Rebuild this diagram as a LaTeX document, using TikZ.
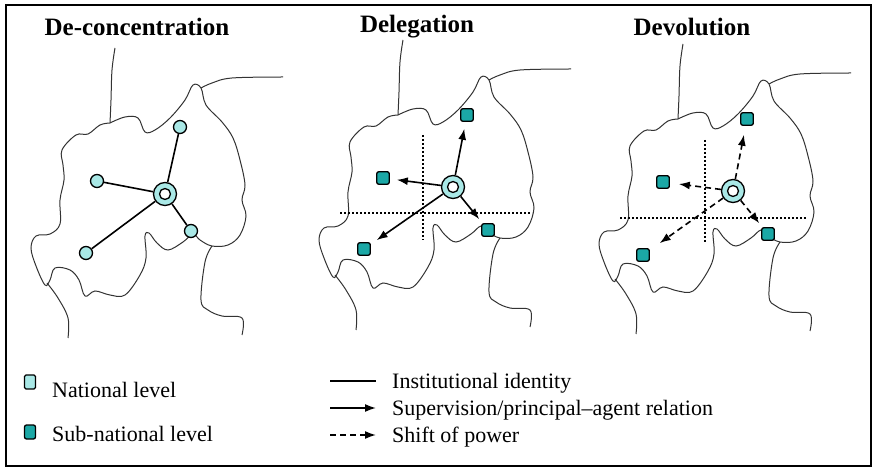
\documentclass[tikz,border=0pt]{standalone}
\usepackage{fontspec}
\setmainfont{Liberation Serif}
\usetikzlibrary{arrows.meta}
\definecolor{natc}{HTML}{A9E8E6}
\definecolor{subc}{HTML}{1BA8A6}
\tikzset{
  border/.style={line width=1pt, black!80},
  nat/.style={circle, draw, line width=1.3pt, fill=natc, minimum size=13pt, inner sep=0},
  sub/.style={rectangle, rounded corners=2pt, draw, line width=1.3pt, fill=subc, minimum size=12.5pt, inner sep=0},
  ctr/.style={circle, draw, line width=1.3pt, fill=natc, minimum size=23pt, inner sep=0,
     path picture={\draw[line width=1.3pt, fill=white] (path picture bounding box.center) circle (5.5pt);}},
  ident/.style={line width=1.6pt},
  superv/.style={line width=1.6pt, -{Latex[length=11pt,width=8pt]}},
  shiftpow/.style={line width=1.6pt, dash pattern=on 6pt off 4pt, -{Latex[length=11pt,width=8pt]}},
  gridline/.style={line width=1.6pt, dash pattern=on 1.6pt off 2.4pt},
  ttl/.style={font=\fontsize{25}{27}\selectfont\bfseries},
  lgd/.style={font=\fontsize{22}{24}\selectfont, anchor=west, inner sep=0}
}
\newcommand{\rmap}{%
  \draw[border] plot[smooth, tension=0.6] coordinates {(115,48) (112,70) (111,100) (110,123)};
  \draw[border] plot[smooth, tension=0.6] coordinates {(110,123) (125,117) (138,118) (145,132) (155,130) (170,118) (185,100) (193,85) (201,88) (206,105) (222,122) (233,138) (240,160) (245,185) (242,200) (246,216) (240,235) (228,245) (212,246) (200,240) (193,234) (183,242) (168,250) (157,243) (149,233) (145,236) (146,258) (140,275) (125,295) (110,295) (95,291) (85,296) (79,280) (70,270) (55,268) (50,280) (45,285) (36,266) (31,248) (36,236) (50,234) (60,224) (60,200) (64,180) (63,165) (62,150) (76,135) (88,134) (100,125) (110,123)};
  \draw[border] plot[smooth, tension=0.6] coordinates {(201,88) (212,83) (232,78) (283,77)};
  \draw[border] plot[smooth, tension=0.6] coordinates {(212,246) (205,262) (201,300) (208,310) (222,316) (242,318) (242,335)};
  \draw[border] plot[smooth, tension=0.6] coordinates {(47,283) (58,298) (68,318) (68,338)};
}
\begin{document}
\begin{tikzpicture}[x=1pt,y=-1pt]
\useasboundingbox (0,0) rectangle (884,470);
\draw[line width=1.5pt] (6,5) rectangle (871,466);
% titles
\node[ttl] (t1) at (137,27) {De-concentration};
\node[ttl] (t2) at (417,27) {Delegation};
\node[ttl] (t3) at (692,27) {Devolution};
% map 1
\begin{scope}\rmap\end{scope}
\node[ctr] (c1) at (165,194) {};
\node[nat] (a1) at (180,127) {};
\node[nat] (b1) at (97,181) {};
\node[nat] (d1) at (191,231) {};
\node[nat] (e1) at (86,253) {};
\draw[ident] (c1) -- (a1); \draw[ident] (c1) -- (b1);
\draw[ident] (c1) -- (d1); \draw[ident] (c1) -- (e1);
% map 2
\begin{scope}[shift={(288,-8)}]\rmap\end{scope}
\coordinate (v2t) at (423,135); \coordinate (v2b) at (423,240);
\coordinate (h2l) at (340,213); \coordinate (h2r) at (532,213);
\draw[gridline] (v2t) -- (v2b); \draw[gridline] (h2l) -- (h2r);
\node[ctr] (c2) at (453,187) {};
\node[sub] (a2) at (467,115) {};
\node[sub] (b2) at (383,178) {};
\node[sub] (d2) at (488,230) {};
\node[sub] (e2) at (364,249) {};
\draw[superv, shorten >=7pt] (c2) -- (a2); \draw[superv, shorten >=7pt] (c2) -- (b2);
\draw[superv, shorten >=5pt] (c2) -- (d2); \draw[superv, shorten >=7pt] (c2) -- (e2);
% map 3
\begin{scope}[shift={(568,-4)}]\rmap\end{scope}
\coordinate (v3t) at (705,140); \coordinate (v3b) at (705,242);
\coordinate (h3l) at (620,218); \coordinate (h3r) at (806,218);
\draw[gridline] (v3t) -- (v3b); \draw[gridline] (h3l) -- (h3r);
\node[ctr] (c3) at (733,191) {};
\node[sub] (a3) at (747,119) {};
\node[sub] (b3) at (663,182) {};
\node[sub] (d3) at (768,234) {};
\node[sub] (e3) at (643,255) {};
\draw[shiftpow, shorten >=9pt] (c3) -- (a3); \draw[shiftpow, shorten >=9pt] (c3) -- (b3);
\draw[shiftpow, shorten >=5pt] (c3) -- (d3); \draw[shiftpow, shorten >=12pt] (c3) -- (e3);
% legend
\node[nat, rectangle, rounded corners=1.5pt, minimum width=11pt, minimum height=14pt] (ln) at (30,382) {};
\node[lgd] (lnt) at (52,390) {National level};
\node[sub, minimum width=11pt, minimum height=14pt] (ls) at (30,432) {};
\node[lgd] (lst) at (52,434) {Sub-national level};
\coordinate (l1a) at (330,381); \coordinate (l1b) at (376,381);
\coordinate (l2a) at (330,408); \coordinate (l2b) at (376,408);
\coordinate (l3a) at (330,435); \coordinate (l3b) at (376,435);
\draw[ident] (l1a) -- (l1b); \draw[superv] (l2a) -- (l2b); \draw[shiftpow] (l3a) -- (l3b);
\node[lgd] (i1) at (392,383) {Institutional identity};
\node[lgd] (i2) at (392,410) {Supervision/principal--agent relation};
\node[lgd] (i3) at (392,437) {Shift of power};
\end{tikzpicture}
\end{document}
